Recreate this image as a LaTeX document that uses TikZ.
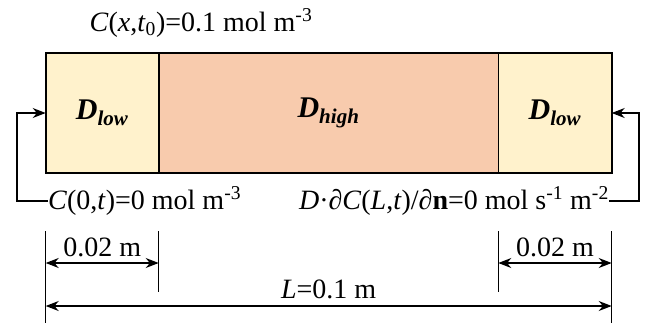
\documentclass[tikz,border=0pt]{standalone}
\usepackage{fontspec}
\setmainfont{Liberation Serif}[BoldFont={* Bold}, ItalicFont={* Italic}, BoldItalicFont={* Bold Italic}]
\usepackage{xcolor}
\usetikzlibrary{arrows.meta, positioning, calc}
\definecolor{lowfill}{HTML}{FFF2CC}
\definecolor{highfill}{HTML}{F8CBAD}
\newcommand{\Dsub}[1]{\textbf{\textit{D}}\textsubscript{\textbf{\textit{#1}}}}

\begin{document}
\begin{tikzpicture}[x=1pt, y=-1pt, >={Stealth[length=13pt, width=10pt]},
  font=\fontsize{28}{32}\selectfont,
  blk/.style={draw, line width=1.6pt, outer sep=0pt, inner sep=0pt,
    minimum height=120pt, font=\fontsize{30}{34}\selectfont},
  fb/.style={->, line width=1.3pt},
  dim/.style={<->, line width=1.3pt},
  tick/.style={line width=1.3pt},
  txt/.style={inner sep=0pt}]
  \useasboundingbox (0,0) rectangle (646,325);
  % domain
  \node[blk, fill=lowfill, minimum width=113pt, anchor=west] (lowL) at (45.7,113) {\Dsub{low}};
  \node[blk, fill=highfill, minimum width=339.6pt, right=0pt of lowL] (high) {\Dsub{high}};
  \node[blk, fill=lowfill, minimum width=113.4pt, right=0pt of high] (lowR) {\Dsub{low}};
  % initial and boundary conditions
  \node[txt] (ic) at (201,23) {\textit{C}(\textit{x},\textit{t}\textsubscript{0})=0.1 mol m\textsuperscript{-3}};
  \node[txt, anchor=west] (bcL) at (48,201) {\textit{C}(0,\textit{t})=0 mol m\textsuperscript{-3}};
  \node[txt, anchor=east] (bcR) at (609,201) {\textit{D}·∂\textit{C}(\textit{L},\textit{t})/∂\textbf{n}=0 mol s\textsuperscript{-1} m\textsuperscript{-2}};
  \draw[fb] (bcL.west) -- ++(-31,0) |- (lowL.west);
  \draw[fb] (bcR.east) -- ++(30,0) |- (lowR.east);
  % dimensions
  \coordinate (t0) at (lowL.south west |- 0,231);
  \coordinate (t1) at (lowL.south east |- 0,231);
  \coordinate (t2) at (lowR.south west |- 0,231);
  \coordinate (t3) at (lowR.south east |- 0,231);
  \draw[tick] (t0) -- ++(0,92);
  \draw[tick] (t1) -- ++(0,61);
  \draw[tick] (t2) -- ++(0,61);
  \draw[tick] (t3) -- ++(0,92);
  \draw[dim] ($(t0)+(0,32)$) -- node[txt, above=5pt] (wL) {0.02 m} ($(t1)+(0,32)$);
  \draw[dim] ($(t2)+(0,32)$) -- node[txt, above=5pt] (wR) {0.02 m} ($(t3)+(0,32)$);
  \draw[dim] ($(t0)+(0,75)$) -- node[txt, above=6pt] (wT) {\textit{L}=0.1 m} ($(t3)+(0,75)$);
\end{tikzpicture}
\end{document}
